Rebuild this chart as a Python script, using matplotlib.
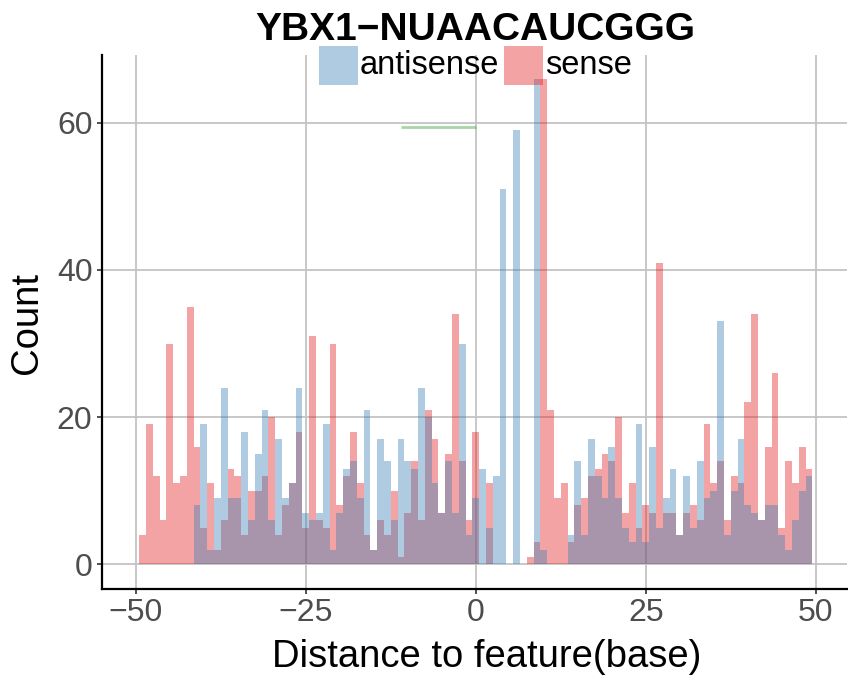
import numpy as np
import matplotlib
matplotlib.use("Agg")
import matplotlib.pyplot as plt
from matplotlib.patches import Rectangle

plt.rcParams['font.family'] = ['Liberation Sans', 'DejaVu Sans']

title = "YBX1\u2212NUAACAUCGGG"
series_names = ["antisense", "sense"]
bin_centers = list(range(-49, 50))

sense = [4, 19, 12, 6, 30, 11, 12, 35, 16, 5,
         11, 2, 6, 13, 12, 4, 10, 10, 12, 20,
         4, 8, 11, 18, 5, 31, 6, 5, 30, 8,
         12, 18, 11, 4, 2, 6, 4, 10, 1, 7,
         14, 6, 21, 17, 7, 15, 34, 14, 6, 18,
         0, 11, 0, 0, 0, 0, 0, 1, 3, 66,
         21, 9, 11, 3, 8, 9, 12, 13, 15, 14,
         20, 7, 11, 5, 8, 7, 41, 7, 7, 4,
         7, 8, 6, 19, 11, 14, 6, 12, 11, 22,
         34, 6, 16, 26, 5, 14, 11, 16, 13]

antisense = [0, 0, 0, 0, 0, 0, 0, 0, 8, 19,
             2, 9, 24, 9, 9, 18, 6, 15, 21, 6,
             17, 9, 11, 24, 7, 6, 7, 19, 2, 7,
             13, 14, 9, 21, 2, 17, 14, 6, 17, 14,
             13, 24, 20, 11, 7, 14, 7, 30, 4, 9,
             13, 5, 12, 51, 0, 59, 0, 0, 66, 2,
             0, 0, 0, 4, 14, 4, 17, 12, 9, 16,
             9, 5, 3, 19, 3, 16, 5, 9, 13, 4,
             12, 5, 14, 9, 10, 33, 4, 10, 17, 8,
             7, 6, 8, 8, 4, 2, 6, 10, 12]

green_x = [-11, 0]
green_y = [59.4, 59.4]

x_ticks = [-50, -25, 0, 25, 50]
y_ticks = [0, 20, 40, 60]

red = "#E41A1C"
blue = "#377EB8"
green = "#4DAF4A"
alpha = 0.4

W, H = 848, 678
fig = plt.figure(figsize=(W / 100, H / 100), dpi=100)
ax = fig.add_axes([101.5 / W, (H - 589) / H, (847 - 101.5) / W, (589 - 55) / H])

centers = np.array(bin_centers)
edges = np.append(centers - 0.5, centers[-1] + 0.5)
ax.stairs(sense, edges, fill=True, color=red, alpha=alpha, linewidth=0, zorder=2)
ax.stairs(antisense, edges, fill=True, color=blue, alpha=alpha, linewidth=0, zorder=3)
ax.plot(green_x, green_y, color=green, alpha=0.5, linewidth=2.0, solid_capstyle='butt', zorder=4)

ax.set_xlim(-55.03, 54.6)
ax.set_ylim(-3.35, 69.2)
ax.set_xticks(x_ticks)
ax.set_xticklabels([str(t).replace('-', '\u2212') for t in x_ticks])
ax.set_yticks(y_ticks)
ax.grid(True, color="#C4C4C4", linewidth=1.3, zorder=0)
ax.set_axisbelow(True)

for s in ["top", "right"]:
    ax.spines[s].set_visible(False)
for s in ["left", "bottom"]:
    ax.spines[s].set_color("black")
    ax.spines[s].set_linewidth(1.6)

ax.tick_params(axis='both', labelsize=23, labelcolor="#4D4D4D", color="#333333",
               length=3.5, width=1.2, pad=3)
ax.set_xlabel("Distance to feature(base)", fontsize=27.5, color="black")
ax.set_ylabel("Count", fontsize=27.5, color="black")
ax.xaxis.set_label_coords(487 / W, 1 - 657 / H, transform=fig.transFigure)
ax.yaxis.set_label_coords(27 / W, 1 - 323 / H, transform=fig.transFigure)
ax.xaxis.label.set_va('center')
ax.yaxis.label.set_va('center')

fig.text(475 / W, 1 - 30 / H, title, fontsize=28, fontweight='bold', ha='center', va='center')

# legend
key = 39
for name, col, kx, tx in [(series_names[0], blue, 319, 360), (series_names[1], red, 504, 545)]:
    fig.add_artist(Rectangle((kx / W, (H - 85) / H), key / W, key / H,
                             transform=fig.transFigure, facecolor=col, alpha=alpha,
                             edgecolor='none'))
    fig.text(tx / W, 1 - 66 / H, name, fontsize=23.5, ha='left', va='center', color='black')

fig.savefig("out.png", dpi=100)
